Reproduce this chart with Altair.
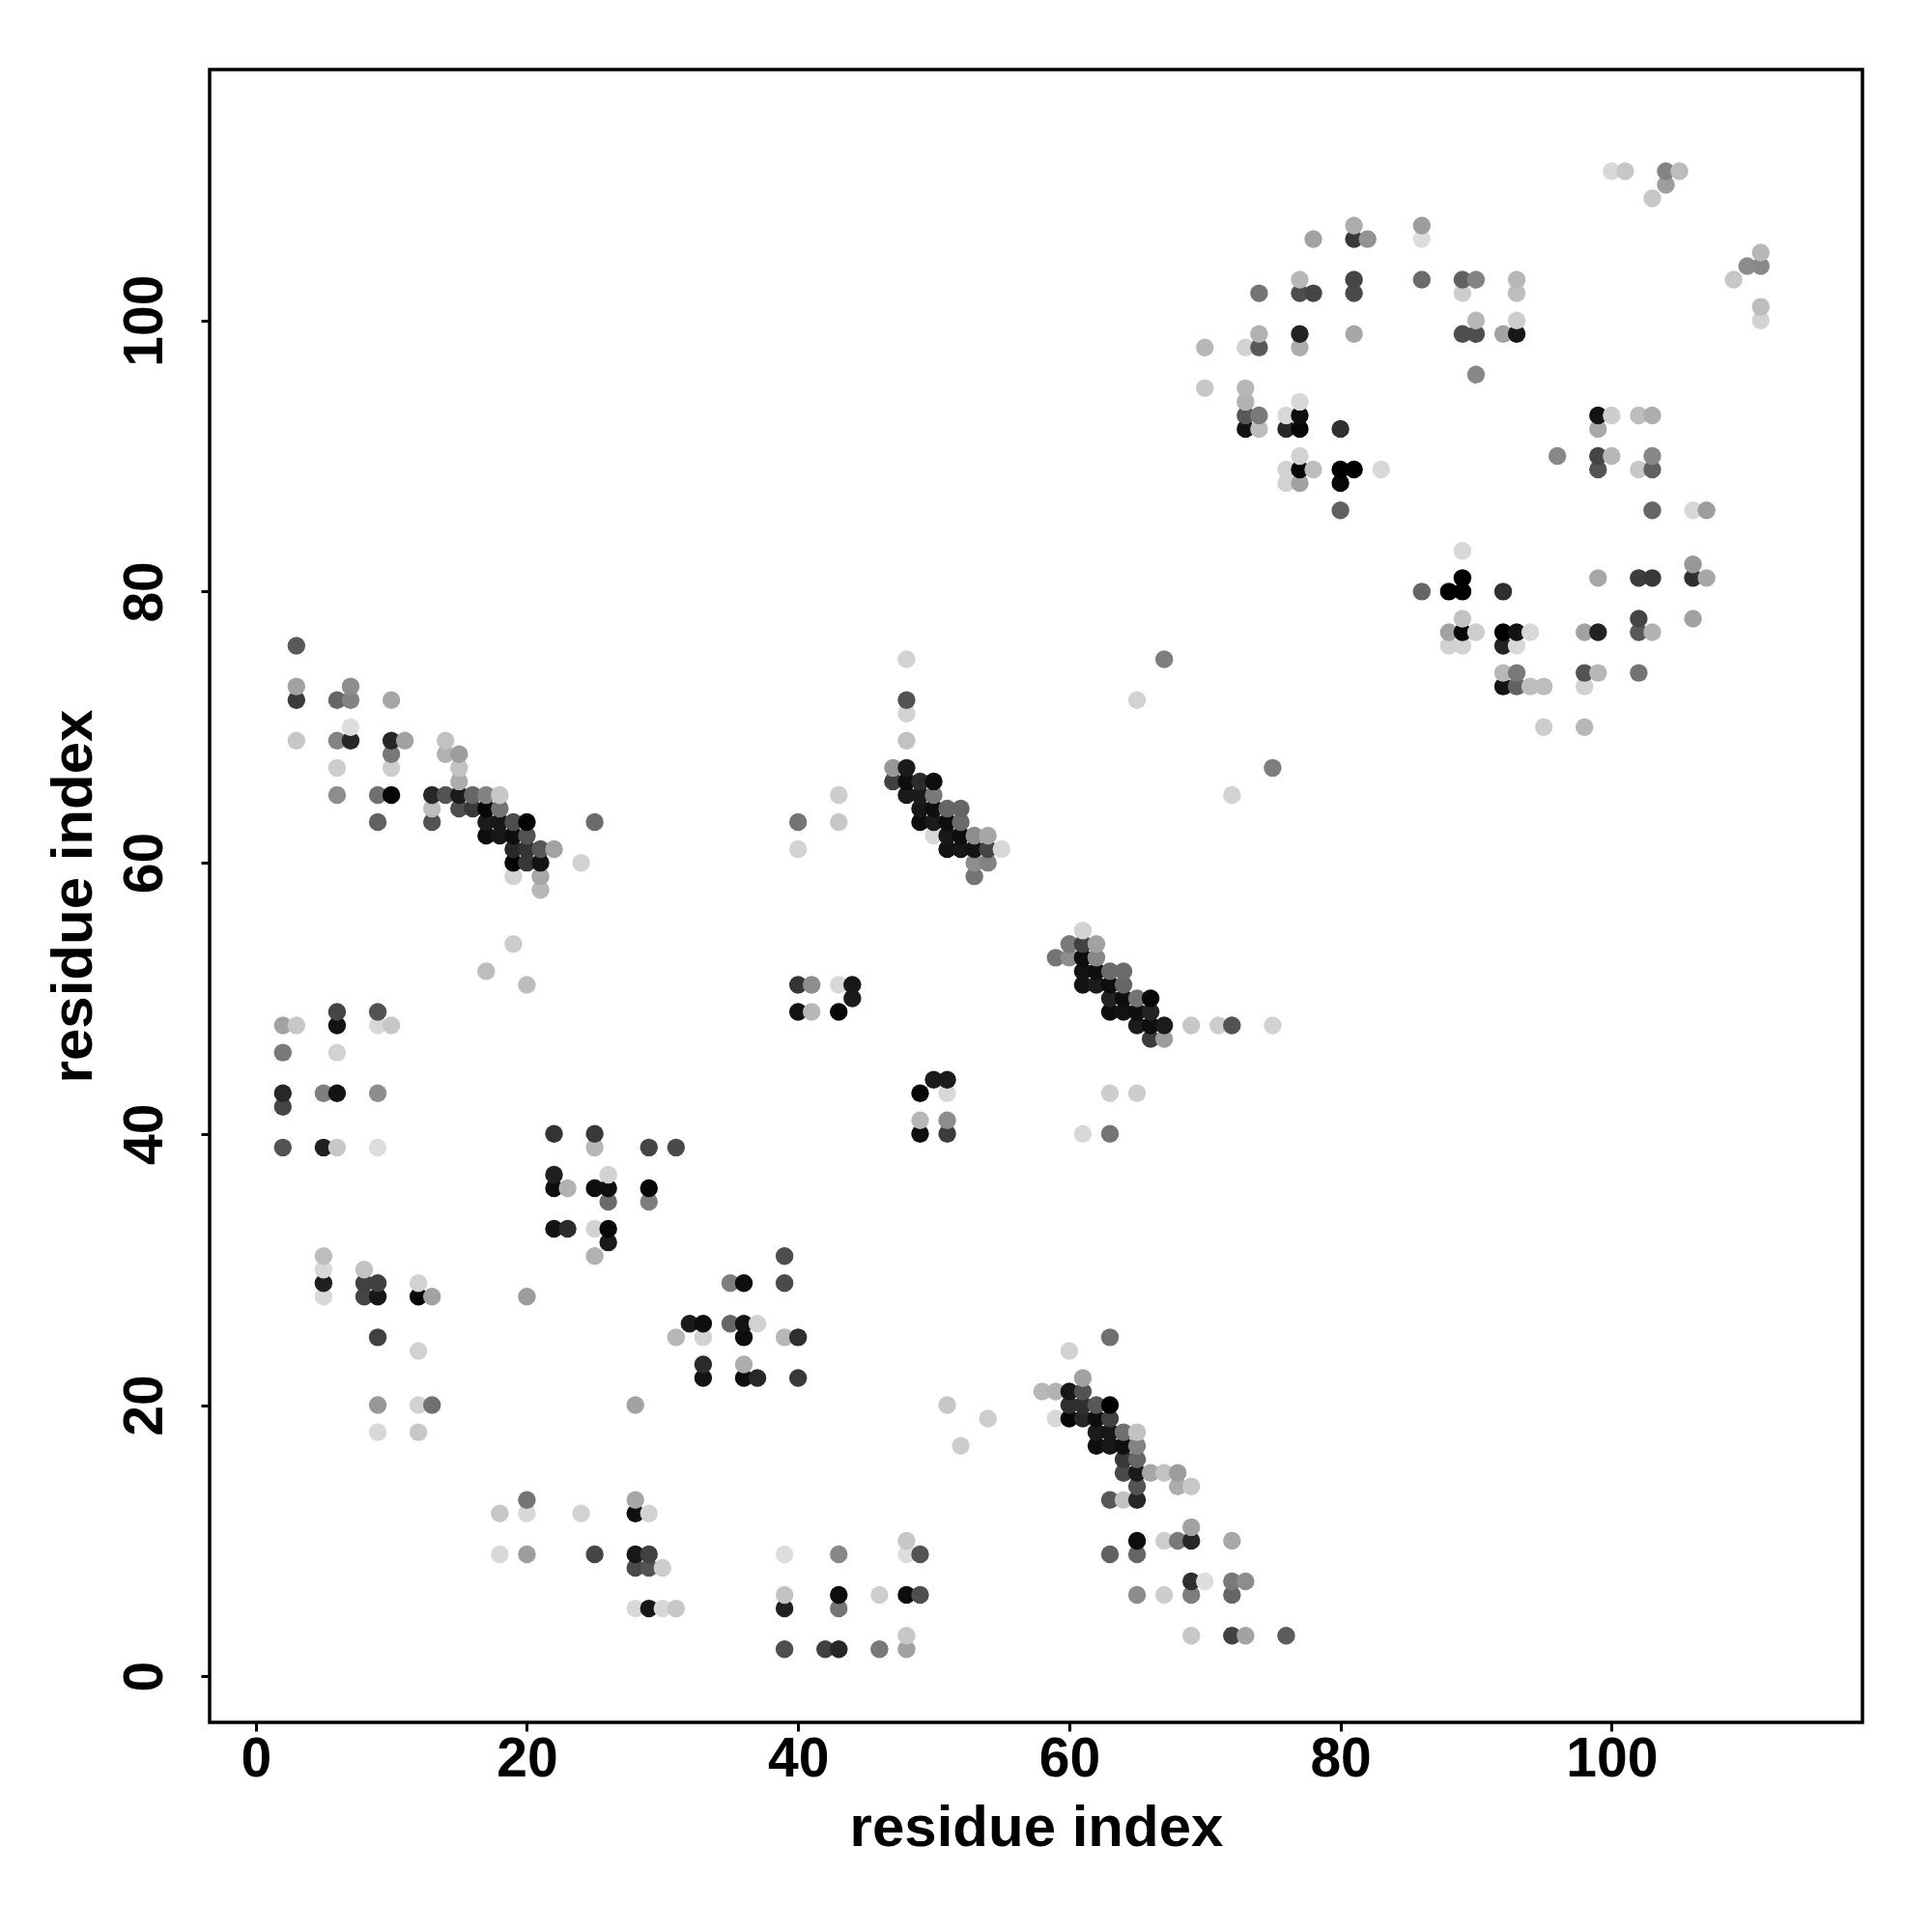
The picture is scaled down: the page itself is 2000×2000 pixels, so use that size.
import altair as alt
import pandas as pd

# low-index block, long-range contacts (i, j, grey level)
i_a = [2,3,2,2,2,2,5,5,5,5,5,5,6,6,6,6,6,8,8,8,9,9,9,9,9,9,9,9,10,12,12,12,12,12,13,13]
j_a = [48,48,46,43,42,39,43,39,31,30,29,28,49,48,46,43,39,30,29,28,49,48,43,39,29,28,25,20,48,29,28,24,20,18,28,20]
g_a = [170,205,130,40,75,90,135,30,195,220,30,220,75,15,215,15,205,200,70,75,90,220,150,225,70,20,70,160,205,215,5,215,215,205,170,120]
i_a2 = [9]
j_a2 = [18]
g_a2 = [220]

i_b = [17,19,20,20,20,20,20,18,18,22,22,22,22,23,23,24,25,25,25,25,25,25,26,26,26,26,26,28,28,28,28,28,28,29,29,29,29,29,29,29,30,30,31,31]
j_b = [52,54,51,28,13,12,9,12,9,40,37,36,33,36,33,12,40,39,36,33,31,9,37,36,35,33,32,20,13,12,9,8,5,39,36,35,12,9,8,5,8,5,39,5]
g_b = [195,210,195,165,125,220,165,205,220,55,30,10,15,185,45,215,60,190,10,215,185,75,215,10,115,5,25,170,175,10,20,80,220,75,5,135,215,70,90,20,210,220,80,205]

i_c = [31,32,33,33,33,33,35,35,36,36,36,36,36,37,37,39,39,39,39,39,39,39,40,40,40,40,41,41,42,43,43,43,43,43,43,44,44,46,46,48,48,48,48,48,49,49]
j_c = [25,26,26,25,23,22,29,26,29,26,25,23,22,26,22,31,29,25,9,6,5,2,51,49,25,22,51,49,2,51,49,9,6,5,2,51,50,6,2,10,9,6,3,2,9,6]
g_c = [190,25,10,215,45,15,135,110,10,15,10,180,10,215,40,85,80,190,225,200,30,85,55,15,50,60,150,190,70,220,5,145,10,125,40,20,25,210,130,205,225,10,205,170,90,85]

# helix-like diagonal, residues 3 to 25 against 58 to 76
i_d = [3,3,3,3,6,6,6,6,7,7,7,7,9,9,10,10,10,10,10,11,13,13,13,14,14,14,15,15,15,15,15,16,16,17,17,17,17,18,18,18,18,19,19,19,19,19,20,20,20,20,21,21,21,21,22,24,25]
j_d = [76,73,72,69,72,69,67,65,73,72,70,69,65,63,72,69,68,67,65,69,65,64,63,69,68,65,68,67,66,65,64,65,64,65,64,63,62,65,64,63,62,63,62,61,60,59,63,62,61,60,61,60,59,58,61,60,63]
g_d = [96,170,65,205,110,140,210,150,150,140,225,40,120,105,175,40,130,210,5,170,40,195,90,200,185,90,165,200,180,25,85,110,60,140,5,25,10,205,125,20,20,85,10,40,3,215,2,90,55,60,95,15,175,190,170,215,115]

# residues 40 to 55 against 59 to 75
i_e = [40,40,43,43,47,47,48,48,48,48,48,48,48,49,49,49,49,50,50,50,50,50,51,51,51,51,52,52,52,52,53,53,53,53,54,54,54,55]
j_e = [63,61,65,63,67,66,75,72,71,69,67,66,65,66,65,64,63,66,65,64,63,62,64,63,62,61,64,63,62,61,62,61,60,59,62,61,60,61]
g_e = [125,215,210,205,160,70,215,90,215,200,25,10,25,45,25,20,10,10,130,10,25,220,110,10,20,15,110,115,10,20,150,15,150,125,175,75,140,220]

# residues 49 to 75 against 40 to 55
i_f = [49,49,49,50,51,51,51,51,51,52,54,58,59,59,59,60,60,60,60,60,60,61,61,61,61,61,61,61,61,61,61,62,62,62,62,63,63,63,63,63,63,64,64,64,64,65,65,65,66,66,66,66,67,67,69,71,72,75]
j_f = [43,41,40,44,44,43,41,40,20,17,19,21,53,21,19,54,53,24,21,20,19,55,54,53,52,51,40,22,21,20,19,54,53,52,51,52,51,50,49,43,40,52,51,50,49,50,49,48,50,49,48,47,48,47,48,48,48,48]
g_f = [5,190,10,25,25,220,150,65,205,210,210,190,125,185,220,130,150,215,20,50,5,215,70,10,15,15,220,170,90,50,40,170,145,10,25,115,10,35,10,210,125,115,110,10,15,125,10,25,5,35,10,65,25,165,205,210,90,215]

# lower diagonal, residues 62 to 76
i_g = [62,62,62,62,63,63,63,63,63,63,63,64,64,64,64,64,65,65,65,65,65,65,65,65,65,65,65,66,67,67,67,68,68,68,69,69,69,69,69,69,70,72,72,72,72,73,73,76]
j_g = [20,19,18,17,25,20,19,18,17,13,9,18,17,16,15,13,18,17,16,15,14,13,10,9,6,43,13,15,15,10,6,15,14,10,14,11,10,7,6,3,7,10,7,6,3,7,3,3]
g_g = [95,10,25,10,120,0,70,20,20,95,105,120,10,60,80,200,200,140,110,25,90,40,10,110,150,210,40,175,200,210,210,165,180,130,205,170,40,50,135,205,225,175,130,110,70,150,170,100]

# upper region, residues 65 to 83 against 65 to 107
i_h = [65,67,70,70,72,73,73,73,73,73,74,74,74,74,74,75,76,76,76,76,77,77,77,77,77,77,77,77,77,77,78,78,78,80,80,80,80,81,81,81,81,81,81,82,83]
j_h = [72,75,98,95,65,98,95,94,93,92,102,99,98,93,92,67,93,92,89,88,103,102,99,98,94,93,92,90,89,88,106,102,89,92,89,88,86,107,106,103,102,99,89,106,89]
g_h = [215,135,190,205,215,215,190,185,95,15,125,185,95,130,195,135,220,40,215,215,190,85,35,180,220,10,5,215,5,170,170,75,195,50,0,5,105,180,60,75,80,175,0,155,220]

# upper region, residues 86 to 95
i_k = [86,86,86,86,88,88,88,89,89,89,89,89,89,89,89,89,90,90,90,90,90,92,92,92,92,92,92,93,93,93,93,93,93,93,93,94,94,95,95]
j_k = [107,106,103,80,80,77,76,103,102,99,83,81,80,78,77,76,103,100,99,96,77,99,80,77,76,74,73,103,102,100,99,77,76,74,73,77,73,73,70]
g_k = [165,225,115,110,0,170,215,105,210,85,220,0,0,200,5,215,140,190,85,145,210,170,50,0,35,190,15,190,195,210,20,15,220,130,105,220,195,195,210]

# upper region, residues 96 to 111
i_m = [96,98,98,98,98,99,99,99,99,99,99,99,100,100,100,101,102,102,102,102,102,102,103,103,103,103,103,103,103,104,104,105,106,106,106,106,107,107,109,110,111,111,111,111]
j_m = [90,77,74,73,70,93,92,90,89,81,77,74,111,93,90,111,93,89,81,78,77,74,109,93,90,89,86,81,77,111,110,111,86,82,81,78,86,81,103,104,105,104,101,100]
g_m = [145,170,90,215,190,15,175,75,90,175,35,190,220,210,190,205,195,205,65,75,95,125,205,180,145,105,110,60,185,140,165,195,220,160,50,170,165,175,205,150,190,145,195,215]

tick_values = [0, 20, 40, 60, 80, 100]
axis_title = "residue index"

rows = []
for a, b, c in [(i_a, j_a, g_a), (i_a2, j_a2, g_a2), (i_b, j_b, g_b), (i_c, j_c, g_c), (i_d, j_d, g_d),
                (i_e, j_e, g_e), (i_f, j_f, g_f), (i_g, j_g, g_g), (i_h, j_h, g_h), (i_k, j_k, g_k), (i_m, j_m, g_m)]:
    assert len(a) == len(b) == len(c), (len(a), len(b), len(c), a[:3])
    rows.extend(zip(a, b, c))

df = pd.DataFrame(rows, columns=["i", "j", "grey"]).drop_duplicates(["i", "j"], keep="first")
df = df.sort_values(["i", "j"], kind="stable")

FONT = "Liberation Sans"
domain = [-3.4, 118.5]


def axis(**kw):
    return alt.Axis(values=tick_values, grid=False, domain=False, ticks=True, tickSize=9, tickWidth=3,
                    tickColor="black", labelColor="black", labelFont=FONT, labelFontSize=57,
                    labelFontWeight="bold", titleFont=FONT, titleFontSize=60, titleFontWeight="bold",
                    titleColor="black", labelOverlap=False, **kw)


chart = (
    alt.Chart(df)
    .mark_circle(size=340, opacity=1, stroke=None)
    .encode(
        x=alt.X("i:Q", title=axis_title, scale=alt.Scale(domain=domain, nice=False, zero=False),
                axis=axis(labelPadding=1, titlePadding=14)),
        y=alt.Y("j:Q", title=axis_title, scale=alt.Scale(domain=domain, nice=False, zero=False),
                axis=axis(labelPadding=29, labelAngle=270, titlePadding=14)),
        color=alt.Color("grey:Q", scale=alt.Scale(domain=[0, 255], range=["#000000", "#ffffff"]), legend=None),
    )
    .properties(width=1711, height=1711,
                autosize=alt.AutoSizeParams(type="none"),
                padding={"left": 209, "top": 64, "right": 60, "bottom": 200})
    .configure_view(stroke="black", strokeWidth=3.5)
)

chart.save("out.html", embed_options={"renderer": "svg", "actions": False})
